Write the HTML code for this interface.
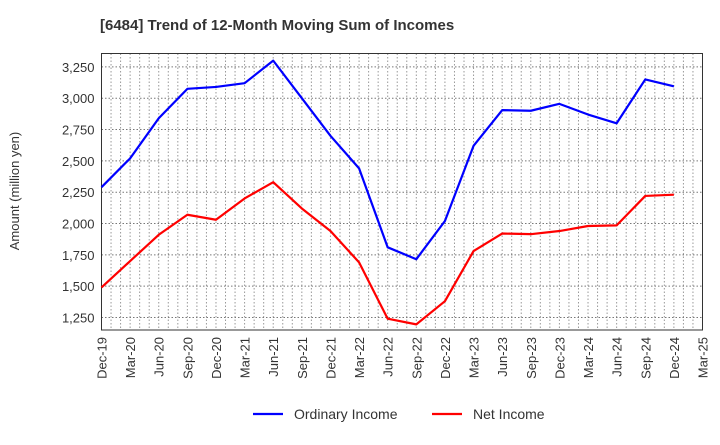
<!DOCTYPE html>
<html><head><meta charset="utf-8"><style>
body{margin:0;background:#fff;font-family:"Liberation Sans",sans-serif}
</style></head><body>
<svg id="c" width="720" height="440" xmlns="http://www.w3.org/2000/svg"></svg>
<script>
const xLabels=["Dec-19","Mar-20","Jun-20","Sep-20","Dec-20","Mar-21","Jun-21","Sep-21","Dec-21","Mar-22","Jun-22","Sep-22","Dec-22","Mar-23","Jun-23","Sep-23","Dec-23","Mar-24","Jun-24","Sep-24","Dec-24","Mar-25"];
const yTicks=[1250,1500,1750,2000,2250,2500,2750,3000,3250];
const ordinary=[2290,2520,2840,3075,3090,3120,3300,3000,2700,2440,1810,1715,2020,2620,2905,2900,2955,2870,2800,3150,3095];
const netIncome=[1490,1700,1910,2070,2030,2200,2330,2120,1940,1690,1240,1195,1380,1780,1920,1915,1940,1980,1985,2220,2230];
const L=101.5,R=702.5,T=53.5,B=330,yMin=1150,yMax=3357;
const ns="http://www.w3.org/2000/svg";
const svg=document.getElementById('c');
const xs=i=>L+(R-L)*i/(xLabels.length-1);
const ys=v=>B-(v-yMin)/(yMax-yMin)*(B-T);
function el(t,a,p){const e=document.createElementNS(ns,t);for(const k in a)e.setAttribute(k,a[k]);(p||svg).appendChild(e);return e;}
const t=el('text',{x:100,y:30,'font-size':15,'font-weight':'bold',fill:'#333'});


t.textContent='[6484]  Trend of 12-Month Moving Sum of Incomes';
const g=el('g',{});


for(let m=1;m<(xLabels.length-1)*3;m++){const x=L+(R-L)*m/((xLabels.length-1)*3);el('line',{x1:x,x2:x,y1:T,y2:B,stroke:'#999','stroke-dasharray':'1.5,2','stroke-width':1},g);}
yTicks.forEach(v=>{el('line',{x1:L,x2:R,y1:ys(v),y2:ys(v),stroke:'#777','stroke-dasharray':'1.5,2','stroke-width':1},g);
const lb=el('text',{x:L-7,y:ys(v)+5,'text-anchor':'end','font-size':13,fill:'#333'});


lb.textContent=v.toLocaleString('en-US');});
xLabels.forEach((s,i)=>{const lb=el('text',{transform:`translate(${xs(i)+5},${B+7}) rotate(-90)`,'text-anchor':'end','font-size':13,fill:'#333'});


lb.textContent=s;});
const fr=el('rect',{x:L,y:T,width:R-L,height:B-T,fill:'none',stroke:'#333','stroke-width':1});


const yt=el('text',{transform:'translate(19,191) rotate(-90)','text-anchor':'middle','font-size':13,fill:'#333'});


yt.textContent='Amount (million yen)';
function line(d,c,n){const p=el('polyline',{points:d.map((v,i)=>xs(i)+','+ys(v)).join(' '),fill:'none',stroke:c,'stroke-width':2.2,'stroke-linejoin':'round'});

}
line(ordinary,'#0000ff','ordinary-income-line');
line(netIncome,'#ff0000','net-income-line');
function leg(x,c,s,n){const g2=el('g',{});


el('line',{x1:x,x2:x+30,y1:414,y2:414,stroke:c,'stroke-width':2.2},g2);
const tx=el('text',{x:x+41,y:419,'font-size':14,fill:'#333'},g2);tx.textContent=s;}
leg(253,'#0000ff','Ordinary Income','legend-ordinary-income');
leg(432,'#ff0000','Net Income','legend-net-income');
</script>
</body></html>
